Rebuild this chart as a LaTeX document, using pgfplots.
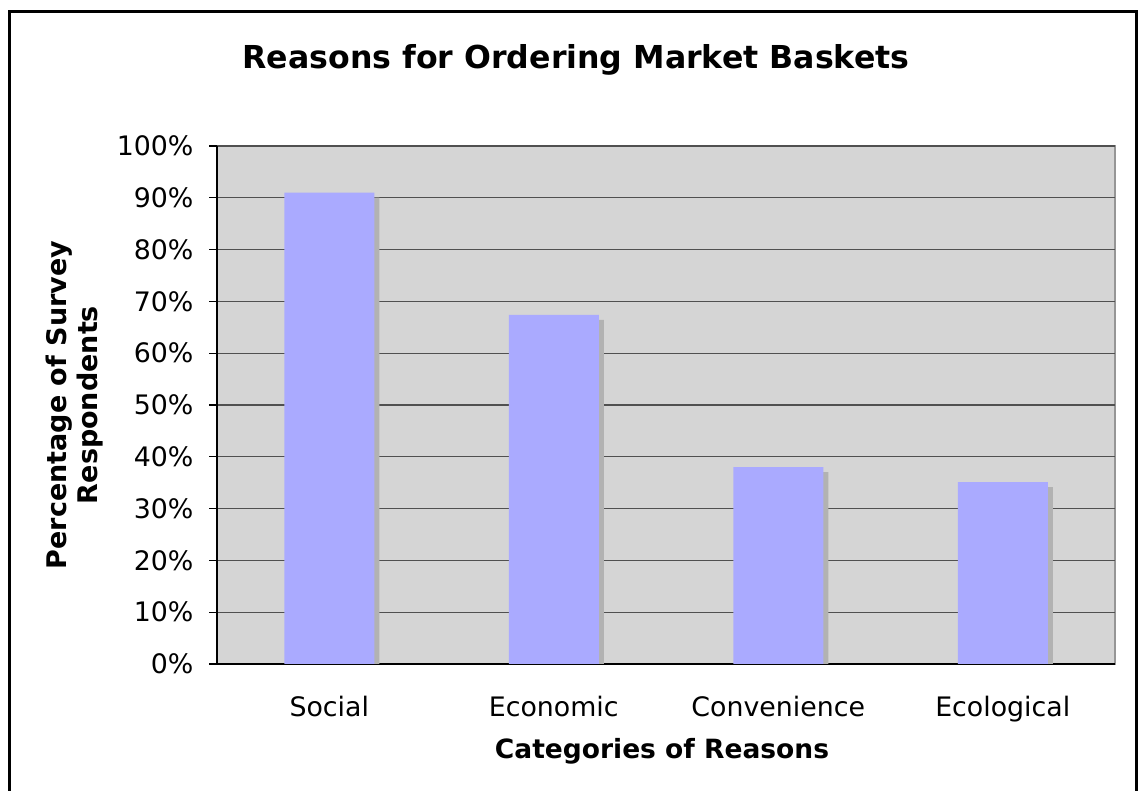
\documentclass[border=0pt]{standalone}
\usepackage{pgfplots}
\pgfplotsset{compat=1.18}
\usepackage{fontspec}
\setmainfont{DejaVu Sans}
\definecolor{barfill}{RGB}{170,170,255}
\definecolor{barshadow}{RGB}{178,178,178}
\definecolor{plotbg}{RGB}{213,213,213}
\definecolor{gridc}{RGB}{80,80,80}
\definecolor{borderc}{RGB}{150,150,150}
\begin{document}
\begin{tikzpicture}[x=1pt,y=1pt]
\useasboundingbox (0,0) rectangle (1138,791);
\begin{axis}[
  at={(217pt,127pt)}, anchor=south west,
  scale only axis, width=898pt, height=518pt,
  xmin=0.5, xmax=4.5, ymin=0, ymax=100,
  axis x line*=bottom, axis y line*=left,
  axis line style={black, line width=1.2pt, -},
  axis background/.style={fill=plotbg, draw=borderc, line width=2pt},
  ymajorgrids, grid style={gridc, line width=1.1pt},
  ytick={0,10,...,100},
  yticklabel={\pgfmathprintnumber{\tick}\%},
  /pgf/number format/assume math mode=true,
  xtick={1,2,3,4},
  xticklabels={Social,Economic,Convenience,Ecological},
  minor xtick={0.5,1.5,2.5,3.5,4.5},
  tick align=outside,
  major tick length=8pt, minor tick length=8pt,
  xtick style={draw=none},
  minor tick style={black, line width=1.2pt},
  ytick style={black, line width=1.2pt},
  tick label style={font=\fontsize{26.8}{32}\selectfont},
  xticklabel style={yshift=-21pt},
  yticklabel style={xshift=-12pt},
  ybar, bar width=90pt, bar shift=0pt,
  clip=true,
]
\addplot[fill=barshadow, draw=none, xshift=5pt, yshift=-5pt] coordinates {(1,91) (2,67.4) (3,38) (4,35.1)};
\addplot[fill=barfill, draw=none] coordinates {(1,91) (2,67.4) (3,38) (4,35.1)};
\end{axis}
\node[font=\fontsize{31.6}{38}\selectfont\bfseries] at (576,731) {Reasons for Ordering Market Baskets};
\node[font=\fontsize{26.5}{32}\selectfont\bfseries] at (662,40) {Categories of Reasons};
\node[font=\fontsize{27}{31}\selectfont\bfseries, rotate=90, align=center] at (75,386) {Percentage of Survey\\Respondents};
\draw[black, line width=3pt] (9.5,-20) -- (9.5,779.5) -- (1136,779.5) -- (1136,-20);
\end{tikzpicture}
\end{document}
